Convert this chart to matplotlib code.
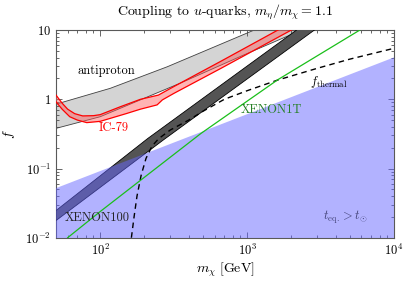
import numpy as np
import matplotlib
matplotlib.use("Agg")
import matplotlib.pyplot as plt
from matplotlib.ticker import FixedLocator, FixedFormatter, LogLocator, NullFormatter

plt.rcParams["font.family"] = "serif"
plt.rcParams["font.serif"] = ["cmr10", "DejaVu Serif"]
plt.rcParams["mathtext.fontset"] = "cm"
plt.rcParams["axes.formatter.use_mathtext"] = True

# antiproton band (m_chi [GeV], f)
pbar_up_m = [50, 117, 286, 1117, 1400]
pbar_up_f = [0.85, 1.44, 2.95, 10.0, 12.5]
pbar_lo_m = [50, 100, 353, 910, 2350, 2600]
pbar_lo_f = [0.38, 0.56, 1.72, 4.2, 10.0, 11.0]

# IC-79 band
ic_up_m = [50, 55, 60, 67, 76, 90, 100, 137, 188, 249, 316, 664, 1620, 1800]
ic_up_f = [1.15, 0.88, 0.72, 0.62, 0.575, 0.58, 0.6, 0.78, 1.0, 1.15, 1.52, 3.55, 10.0, 11.5]
ic_lo_m = [50, 55, 62, 70, 81, 100, 150, 188, 244, 265, 318, 664, 2000, 2200]
ic_lo_f = [0.92, 0.72, 0.56, 0.5, 0.46, 0.48, 0.62, 0.72, 0.83, 0.98, 1.22, 2.8, 10.0, 11.2]

# XENON100 band
x100_up_m = [50, 210, 2170, 2400]
x100_up_f = [0.0247, 0.27, 10.0, 11.6]
x100_lo_m = [50, 270, 2870, 3100]
x100_lo_f = [0.0177, 0.26, 10.0, 11.3]

# XENON1T limit
x1t_m = [60, 100, 484, 1620, 5850]
x1t_f = [0.01, 0.0239, 0.32, 1.92, 10.0]

# thermal coupling
th_m = [163, 170, 178, 190, 205, 225, 250, 300, 400, 500, 700, 1000, 1620, 3000, 5000, 10000]
th_f = [0.01, 0.02, 0.04, 0.08, 0.14, 0.21, 0.27, 0.36, 0.5, 0.67, 1.0, 1.33, 1.9, 2.8, 3.8, 5.45]

# t_eq > t_sun boundary
teq_m = [50, 10000]
teq_f = [0.052, 4.03]

fig = plt.figure(figsize=(4.07, 2.81), dpi=100)
ax = fig.add_axes([0.1376, 0.154, 0.8304, 0.739])
ax.set_xscale("log")
ax.set_yscale("log")

ax.fill(pbar_up_m + pbar_lo_m[::-1], pbar_up_f + pbar_lo_f[::-1],
        facecolor="0.83", edgecolor="none", zorder=1)
ax.plot(pbar_up_m, pbar_up_f, color="0.25", lw=0.6, zorder=2)
ax.plot(pbar_lo_m, pbar_lo_f, color="0.25", lw=0.6, zorder=2)

ax.fill(ic_up_m + ic_lo_m[::-1], ic_up_f + ic_lo_f[::-1],
        facecolor=(1.0, 0.35, 0.35), alpha=0.45, edgecolor="none", zorder=3)
ax.plot(ic_up_m, ic_up_f, color="red", lw=0.9, zorder=4)
ax.plot(ic_lo_m, ic_lo_f, color="red", lw=0.9, zorder=4)

ax.fill(x100_up_m + x100_lo_m[::-1], x100_up_f + x100_lo_f[::-1],
        facecolor="0.33", edgecolor="black", lw=0.6, zorder=5)

ax.fill_between(teq_m, teq_f, [1e-3, 1e-3], facecolor=(0.4, 0.4, 1.0),
                alpha=0.5, edgecolor="none", zorder=6)

ax.plot(th_m, th_f, color="black", lw=1.0, ls=(0, (4, 3)), zorder=7)
ax.plot(x1t_m, x1t_f, color=(0.1, 0.75, 0.1), lw=0.9, zorder=8)

ax.text(110, 2.57, "antiproton", fontsize=9, ha="center", va="center", zorder=9)
ax.text(123, 0.386, "IC-79", fontsize=9, color="red", ha="center", va="center", zorder=9)
ax.text(3590, 1.78, r"$f_{\rm thermal}$", fontsize=9, ha="center", va="center", zorder=9)
ax.text(1460, 0.70, "XENON1T", fontsize=9, color=(0.15, 0.5, 0.15),
        ha="center", va="center", zorder=9)
ax.text(95, 0.0195, "XENON100", fontsize=9, color="0.15", ha="center", va="center", zorder=9)
ax.text(4690, 0.0195, r"$t_{\rm eq.} > t_{\odot}$", fontsize=9, color=(0.27, 0.27, 0.48),
        ha="center", va="center", zorder=9)

ax.set_xlim(50, 1e4)
ax.set_ylim(1e-2, 10)

ax.xaxis.set_major_locator(FixedLocator([1e2, 1e3, 1e4]))
ax.xaxis.set_major_formatter(FixedFormatter([r"$10^2$", r"$10^3$", r"$10^4$"]))
ax.yaxis.set_major_locator(FixedLocator([1e-2, 1e-1, 1, 10]))
ax.yaxis.set_major_formatter(FixedFormatter([r"$10^{-2}$", r"$10^{-1}$", r"$1$", r"$10$"]))
ax.xaxis.set_minor_locator(LogLocator(base=10, subs=np.arange(2, 10)))
ax.yaxis.set_minor_locator(LogLocator(base=10, subs=np.arange(2, 10)))
ax.xaxis.set_minor_formatter(NullFormatter())
ax.yaxis.set_minor_formatter(NullFormatter())
ax.tick_params(which="both", direction="in", top=True, right=True, colors="0.3",
               labelcolor="black", labelsize=9, width=0.6)
ax.tick_params(which="major", length=4)
ax.tick_params(which="minor", length=2)
for s in ax.spines.values():
    s.set_color("0.35")
    s.set_linewidth(0.8)

ax.set_xlabel(r"$m_\chi\ [\mathrm{GeV}]$", fontsize=10, labelpad=2)
ax.set_ylabel(r"$f$", fontsize=10, labelpad=6)
ax.set_title(r"Coupling to $u$-quarks, $m_\eta/m_\chi = 1.1$", fontsize=10, pad=11)

fig.savefig("out.png", dpi=100)
